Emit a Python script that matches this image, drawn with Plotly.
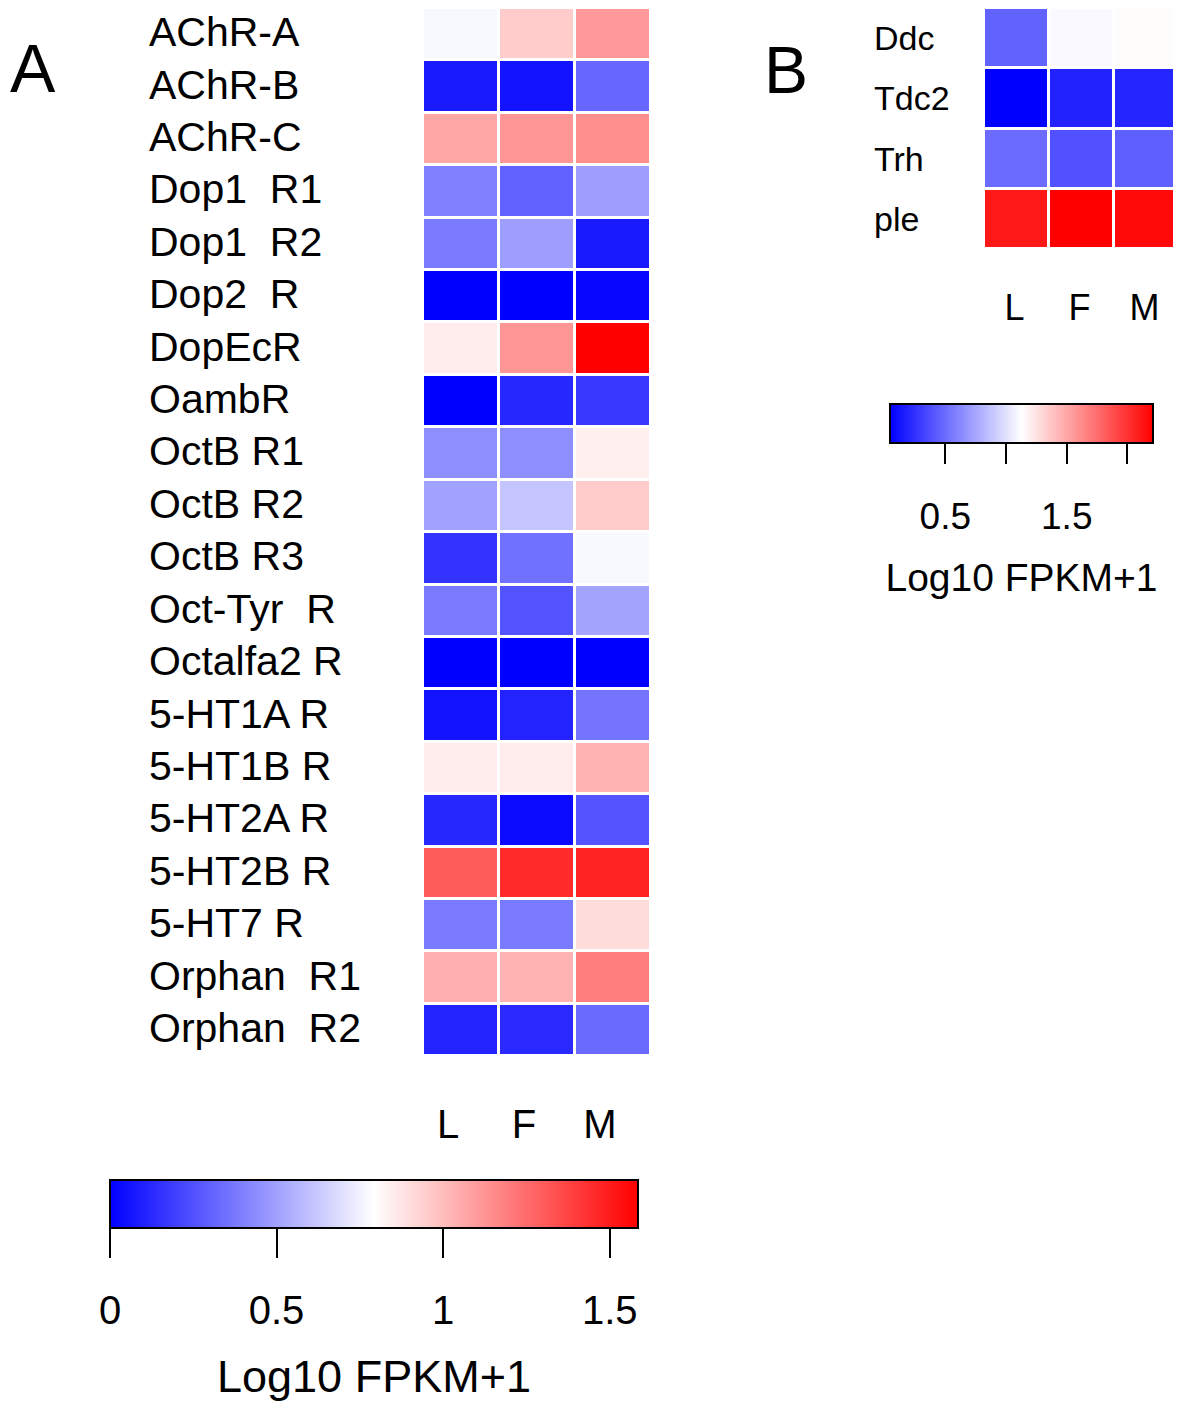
import plotly.graph_objects as go

W, H = 1181, 1405
OFF = 8  # page body margin

# panel A data
genes_a = ["AChR-A", "AChR-B", "AChR-C", "Dop1  R1", "Dop1  R2", "Dop2  R", "DopEcR",
           "OambR", "OctB R1", "OctB R2", "OctB R3", "Oct-Tyr  R", "Octalfa2 R",
           "5-HT1A R", "5-HT1B R", "5-HT2A R", "5-HT2B R", "5-HT7 R", "Orphan  R1", "Orphan  R2"]
stages = ["L", "F", "M"]
vals_a = [
    [0.77, 0.95, 1.11],
    [0.08, 0.06, 0.32],
    [1.07, 1.12, 1.14],
    [0.40, 0.30, 0.49],
    [0.38, 0.49, 0.08],
    [0.00, 0.00, 0.02],
    [0.85, 1.12, 1.585],
    [0.00, 0.12, 0.17],
    [0.44, 0.44, 0.84],
    [0.50, 0.61, 0.95],
    [0.16, 0.35, 0.77],
    [0.38, 0.26, 0.51],
    [0.00, 0.00, 0.00],
    [0.06, 0.11, 0.36],
    [0.85, 0.85, 1.03],
    [0.12, 0.03, 0.26],
    [1.30, 1.45, 1.48],
    [0.38, 0.38, 0.90],
    [1.04, 1.03, 1.19],
    [0.11, 0.13, 0.33],
]
range_a = [0, 1.585]
ticks_a = [0, 0.5, 1, 1.5]

# panel B data
genes_b = ["Ddc", "Tdc2", "Trh", "ple"]
vals_b = [
    [0.46, 1.10, 1.14],
    [0.045, 0.19, 0.20],
    [0.50, 0.39, 0.45],
    [2.11, 2.21, 2.17],
]
range_b = [0.045, 2.21]
ticks_b = [0.5, 1, 1.5, 2]
labels_b = ["0.5", "", "1.5", ""]

bwr = [[0, "rgb(0,0,255)"], [0.5, "rgb(255,255,255)"], [1, "rgb(255,0,0)"]]
FONT = "Liberation Sans, Arial, sans-serif"


def px_x(p):
    return min(1, max(0, (p - OFF) / W))


def px_y(p):
    return min(1, max(0, 1 - (p - OFF) / H))


def cbar(x0, x1, top, bottom, ticklen, tickvals):
    return dict(
        orientation="h", x=px_x((x0 + x1) / 2), xanchor="center", len=(x1 - x0) / W,
        lenmode="fraction", y=px_y(top), yanchor="top", thickness=bottom - top,
        xpad=0, ypad=0, outlinewidth=2, outlinecolor="black",
        ticks="outside", ticklen=ticklen, tickwidth=2, tickcolor="black",
        tickvals=tickvals, showticklabels=False,
    )


fig = go.Figure()

fig.add_trace(go.Heatmap(
    z=vals_a, x=stages, y=genes_a, colorscale=bwr, zmin=range_a[0], zmax=range_a[1],
    xgap=3, ygap=3, xaxis="x", yaxis="y",
    colorbar=cbar(110, 638, 1180, 1228, 29, ticks_a),
))

fig.add_trace(go.Heatmap(
    z=vals_b, x=stages, y=genes_b, colorscale=bwr, zmin=range_b[0], zmax=range_b[1],
    xgap=3, ygap=3, xaxis="x2", yaxis="y2",
    colorbar=cbar(890, 1153, 404, 443, 20, ticks_b),
))

# empty traces so the colour-bar label axes get drawn
fig.add_trace(go.Scatter(x=[], y=[], xaxis="x3", yaxis="y3", showlegend=False))
fig.add_trace(go.Scatter(x=[], y=[], xaxis="x4", yaxis="y4", showlegend=False))

annotations = []
for g in genes_a:
    annotations.append(dict(text=g, x=px_x(147), xref="paper", xanchor="left",
                            y=g, yref="y", yanchor="middle", yshift=2, showarrow=False,
                            font=dict(size=41, family=FONT, color="black")))
for g in genes_b:
    annotations.append(dict(text=g, x=px_x(872), xref="paper", xanchor="left",
                            y=g, yref="y2", yanchor="middle", showarrow=False,
                            font=dict(size=34, family=FONT, color="black")))
annotations.append(dict(text="A", x=0, y=px_y(68), xref="paper", yref="paper",
                        xanchor="left", yanchor="middle", showarrow=False,
                        font=dict(size=68, family=FONT, color="black")))
annotations.append(dict(text="B", x=px_x(762), y=px_y(70), xref="paper", yref="paper",
                        xanchor="left", yanchor="middle", showarrow=False,
                        font=dict(size=66, family=FONT, color="black")))

hidden = dict(visible=False, showgrid=False, zeroline=False, fixedrange=True)

fig.update_layout(
    width=W, height=H,
    margin=dict(l=0, r=0, t=0, b=0),
    paper_bgcolor="white", plot_bgcolor="white",
    showlegend=False,
    annotations=annotations,
    xaxis=dict(domain=[px_x(423), px_x(651)], anchor="y", showgrid=False, zeroline=False,
               showline=False, ticks="", ticklabelstandoff=40, ticklabelshift=-13,
               automargin=False, tickfont=dict(size=40, family=FONT, color="black")),
    yaxis=dict(domain=[px_y(1057), px_y(6)], anchor="x", autorange="reversed",
               showgrid=False, zeroline=False, showticklabels=False, ticks=""),
    xaxis2=dict(domain=[px_x(984), px_x(1179)], anchor="y2", showgrid=False, zeroline=False,
                showline=False, ticks="", ticklabelstandoff=34, ticklabelshift=-2,
                automargin=False, tickfont=dict(size=36, family=FONT, color="black")),
    yaxis2=dict(domain=[px_y(249), px_y(1)], anchor="x2", autorange="reversed",
                showgrid=False, zeroline=False, showticklabels=False, ticks=""),
    # label axes under the colour bars
    xaxis3=dict(domain=[px_x(110), px_x(638)], anchor="y3", range=range_a,
                showgrid=False, zeroline=False, showline=False, ticks="",
                tickvals=ticks_a, ticktext=["0", "0.5", "1", "1.5"],
                ticklabelstandoff=55, automargin=False, fixedrange=True,
                tickfont=dict(size=40, family=FONT, color="black"),
                title=dict(text="Log10 FPKM+1", standoff=29,
                           font=dict(size=45, family=FONT, color="black"))),
    yaxis3=dict(domain=[px_y(1228), px_y(1180)], anchor="x3", **hidden),
    xaxis4=dict(domain=[px_x(890), px_x(1153)], anchor="y4", range=range_b,
                showgrid=False, zeroline=False, showline=False, ticks="",
                tickvals=ticks_b, ticktext=labels_b,
                ticklabelstandoff=48, automargin=False, fixedrange=True,
                tickfont=dict(size=37, family=FONT, color="black"),
                title=dict(text="Log10 FPKM+1", standoff=27,
                           font=dict(size=39, family=FONT, color="black"))),
    yaxis4=dict(domain=[px_y(443), px_y(404)], anchor="x4", **hidden),
)

fig.write_html("out.html")
